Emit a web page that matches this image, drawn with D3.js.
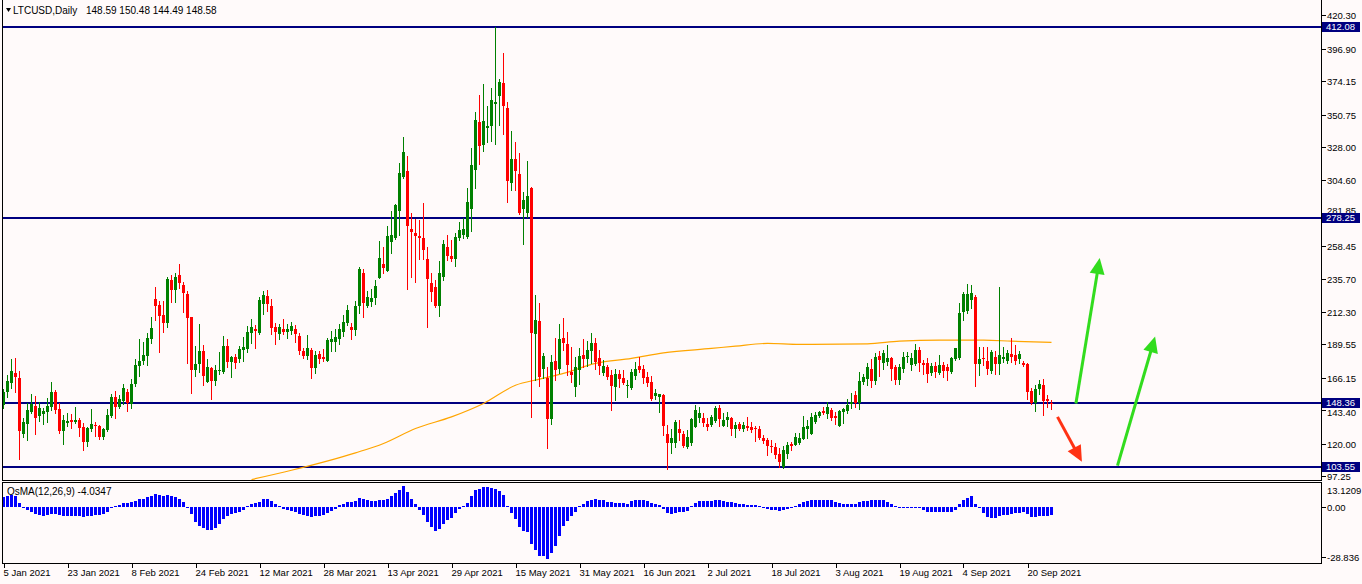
<!DOCTYPE html>
<html><head><meta charset="utf-8">
<script src="https://cdn.jsdelivr.net/npm/d3@7"></script>
<style>
html,body{margin:0;padding:0;background:#fffafa;}
svg{display:block;font-family:"Liberation Sans",Arial,sans-serif;}
</style></head><body>
<svg id="c" width="1362" height="584"></svg>
<script>
const openP=[147.0,156.4,162.7,169.5,166.2,126.7,133.9,142.3,146.3,139.3,
140.9,142.1,145.8,156.1,144.0,128.8,134.4,136.5,135.1,136.3,
131.8,121.1,130.2,133.2,132.3,124.8,129.7,139.3,152.6,145.8,
149.6,156.1,147.9,162.2,174.4,178.1,181.6,193.5,221.3,217.1,
210.1,204.7,234.7,227.7,238.4,231.2,224.9,208.7,171.6,175.6,
184.9,163.4,173.0,164.1,170.9,170.2,188.4,177.2,180.9,179.5,
185.6,186.1,197.3,200.5,197.7,217.8,223.7,216.7,201.5,196.8,
200.3,198.2,199.1,200.1,195.4,184.9,181.4,185.6,173.2,182.6,
180.9,178.1,191.4,191.4,193.3,198.2,204.3,201.9,199.6,216.4,
239.8,216.4,219.4,222.3,236.3,245.9,241.2,261.5,263.9,283.3,
307.1,311.1,270.4,267.4,265.5,263.9,249.4,232.6,230.0,216.4,
237.0,257.8,251.7,249.6,263.9,266.2,265.0,284.4,311.8,345.3,
329.3,341.5,342.6,358.1,363.7,373.0,355.5,302.5,319.5,309.2,
284.2,281.4,298.9,197.0,205.9,172.3,166.2,137.4,177.9,172.3,
193.8,190.0,170.4,159.8,171.6,182.1,179.3,185.1,190.7,179.8,
169.9,173.5,168.0,159.8,168.8,165.9,160.6,159.2,167.4,174.4,
172.3,166.9,163.2,153.3,152.8,154.0,126.7,120.2,120.2,130.2,
126.5,117.8,120.2,131.8,138.1,137.7,133.7,133.0,136.0,145.1,
132.3,136.5,138.1,130.0,133.7,130.0,132.3,131.8,130.7,130.2,
124.1,122.5,118.5,117.8,112.6,103.8,112.6,119.7,118.9,120.6,
123.2,130.0,126.7,135.3,139.3,142.8,140.7,143.5,139.5,132.3,
142.3,142.8,147.7,154.0,148.2,163.4,165.7,172.3,163.7,181.4,
176.7,177.2,179.8,173.9,164.6,172.7,180.5,175.1,175.8,185.6,
176.3,176.3,169.7,174.6,169.9,175.1,173.9,170.4,179.1,179.8,
212.4,213.1,220.6,222.9,175.8,180.0,178.1,171.1,180.5,175.8,
179.1,178.1,182.8,182.1,179.1,176.7,175.8,157.0,148.2,158.2,
161.0,151.2,148.59];
const highP=[158.2,168.0,179.3,180.2,170.9,138.1,148.2,154.7,153.3,148.9,
144.7,152.4,163.2,158.0,148.2,140.0,141.2,140.7,145.4,137.9,
134.6,131.8,144.2,134.9,133.0,130.7,144.0,154.9,156.8,154.5,
162.2,158.4,165.7,179.3,193.5,191.0,197.5,208.5,229.8,219.9,
219.9,236.6,238.2,239.8,245.9,233.5,227.0,209.0,188.4,203.8,
189.1,179.3,173.9,175.1,184.0,195.4,193.3,181.4,182.8,188.4,
194.9,202.4,207.3,203.1,222.5,227.2,227.7,221.3,204.3,203.8,
207.3,203.8,205.4,203.1,197.3,186.8,195.9,186.8,184.9,184.9,
186.3,194.2,199.1,200.1,203.8,210.1,217.1,204.3,219.9,244.0,
242.2,227.0,228.1,234.7,262.0,258.0,272.7,283.0,288.0,316.5,
335.1,321.8,281.9,277.4,276.8,288.9,257.6,239.4,234.7,248.0,
262.7,266.2,262.7,267.8,275.1,278.3,299.4,327.4,352.3,364.4,
372.1,356.9,369.1,412.1,375.6,394.1,359.7,339.2,331.6,323.9,
296.2,318.1,300.1,224.2,218.3,183.7,173.9,182.1,193.8,203.8,
207.8,198.0,187.9,180.9,186.8,193.1,192.1,197.3,193.8,185.6,
178.6,175.1,171.6,172.3,172.0,172.0,164.6,172.7,177.4,180.5,
175.1,170.4,167.4,158.7,155.2,154.7,133.0,130.0,136.5,136.5,
128.8,129.5,137.7,147.0,145.4,141.2,138.1,140.0,146.3,147.0,
141.2,142.3,138.8,135.3,135.3,135.3,138.8,135.3,132.3,132.3,
125.9,123.7,122.5,120.2,116.7,118.5,121.3,121.3,127.6,127.2,
139.3,136.9,141.2,142.3,143.0,145.8,149.3,144.7,142.3,143.5,
144.7,151.0,155.6,157.0,170.4,168.8,176.3,179.1,183.3,184.9,
185.6,189.1,180.5,175.1,175.8,184.4,184.4,183.7,189.8,187.9,
178.6,179.8,176.3,177.4,182.1,177.4,175.6,180.9,182.1,218.7,
226.5,231.7,231.2,224.2,187.9,187.5,187.9,185.6,185.1,229.9,
187.5,185.6,194.2,189.1,185.1,178.1,176.3,159.4,161.0,164.6,
165.7,154.0,150.48];
const lowP=[144.9,152.8,159.2,156.4,109.2,124.8,122.5,141.2,126.7,135.8,
133.5,135.3,143.5,141.2,127.2,119.7,132.5,131.1,134.2,125.3,
115.5,118.5,129.0,125.3,123.4,123.2,129.0,138.4,138.1,144.7,
147.7,143.0,145.1,160.6,167.6,175.8,175.3,190.3,206.4,184.4,
198.4,201.9,219.0,219.0,229.3,212.4,176.3,155.6,167.6,170.4,
161.0,163.0,151.4,161.5,169.2,169.7,173.9,166.9,173.2,177.4,
178.1,184.4,190.3,187.2,196.8,210.8,212.9,196.8,189.8,193.1,
196.8,194.2,196.6,191.0,182.8,179.8,179.1,166.2,169.9,176.3,
178.1,178.1,184.9,185.1,189.8,195.6,203.1,193.3,196.1,211.3,
208.9,215.5,216.4,217.6,235.9,239.4,241.0,253.8,263.4,266.2,
306.0,228.6,237.0,233.5,249.6,249.2,201.9,219.9,215.9,209.6,
234.7,248.7,248.2,244.7,262.7,263.9,264.3,269.2,299.4,316.0,
325.1,331.6,332.3,330.0,343.4,336.8,289.6,297.8,297.8,280.7,
259.7,279.1,138.8,164.6,160.3,166.2,116.7,133.7,165.0,169.7,
185.6,168.0,163.4,153.5,162.2,173.9,174.4,176.3,172.7,168.8,
168.0,165.3,143.5,150.5,159.8,161.7,152.8,158.2,165.7,170.4,
162.7,160.6,150.5,151.2,142.3,126.0,102.6,113.2,117.8,122.5,
117.4,116.7,119.0,131.8,135.3,132.3,129.5,132.3,135.3,132.3,
132.3,132.3,126.0,124.4,129.5,129.0,129.5,127.9,121.8,123.0,
120.2,111.9,114.3,110.0,103.7,103.0,110.3,115.5,118.9,119.7,
123.2,123.7,126.7,134.2,138.8,140.7,137.7,136.5,133.5,132.3,
134.2,141.6,145.1,145.8,144.0,162.2,161.5,159.8,161.7,167.4,
172.7,175.1,164.6,162.2,162.2,170.4,177.4,171.6,175.1,171.1,
169.2,163.4,168.0,166.9,169.2,166.9,165.0,169.7,178.6,179.1,
206.6,211.7,214.8,160.3,168.0,175.1,169.2,169.7,169.2,169.2,
177.4,176.7,177.4,175.8,176.3,174.4,151.7,147.7,143.0,154.7,
140.0,145.8,144.49];
const closeP=[156.4,163.9,170.9,166.9,128.8,135.1,143.5,147.5,138.1,144.9,
142.8,146.5,156.1,143.5,128.8,136.5,135.8,135.3,136.5,131.1,
121.3,130.9,133.7,132.5,124.8,130.0,140.0,152.6,145.8,151.2,
158.9,148.2,162.2,175.1,178.1,182.1,193.8,200.8,216.7,209.6,
204.7,235.4,227.7,236.6,232.4,225.3,208.2,171.6,175.8,184.9,
167.6,173.7,164.1,171.6,171.6,188.4,177.4,180.5,176.7,186.3,
187.7,198.2,201.5,198.9,220.4,224.2,217.6,201.0,198.2,201.5,
198.0,200.5,202.4,197.0,185.1,181.4,186.8,173.2,181.9,179.5,
179.3,192.6,193.3,194.5,200.3,205.2,213.6,199.6,216.7,242.6,
218.3,222.9,222.0,230.5,250.1,243.3,265.5,266.2,287.3,309.5,
324.4,272.7,268.3,265.5,264.3,255.7,235.6,226.5,216.4,239.4,
259.9,251.7,249.4,264.8,269.7,270.4,289.4,315.3,346.9,328.6,
346.2,342.6,360.9,359.7,373.7,356.7,304.1,319.5,311.1,281.9,
290.8,293.8,197.7,206.6,166.9,181.4,137.0,177.2,172.0,193.3,
190.3,175.1,168.0,173.9,181.4,179.3,185.6,190.3,177.0,174.6,
174.6,166.9,160.3,168.8,165.3,162.7,161.0,170.4,172.7,171.6,
166.2,162.7,151.7,155.6,154.7,132.3,120.2,124.1,135.3,127.2,
118.5,124.8,137.0,143.5,141.2,134.6,131.8,138.8,145.1,137.4,
136.5,138.8,130.0,133.0,130.2,133.0,131.1,129.5,130.0,124.1,
121.8,118.5,117.8,111.9,107.3,115.5,119.0,118.3,124.4,124.1,
131.8,132.5,138.8,140.0,142.3,141.2,145.8,138.1,138.1,142.8,
144.0,147.0,149.3,148.2,163.9,166.9,173.9,163.9,180.7,178.6,
183.7,179.8,172.3,164.6,173.9,180.5,181.4,179.8,185.6,176.3,
175.1,169.2,174.6,170.4,175.1,170.9,170.9,179.8,186.8,211.3,
224.6,224.9,225.3,175.8,179.1,179.1,172.3,184.4,175.8,182.1,
180.5,183.7,180.5,178.1,182.8,175.1,156.4,148.6,158.7,162.2,
150.0,150.0,148.58];
const osma=[5.5,6.0,6.2,6.0,2.5,-0.5,-1.5,-2.6,-3.5,-4.0,
-4.3,-3.8,-3.3,-3.3,-4.1,-4.5,-4.7,-4.7,-4.7,-4.7,
-5.0,-4.7,-4.3,-4.0,-3.8,-3.3,-2.4,-0.5,0.9,1.4,
2.2,2.2,2.8,3.5,4.1,4.5,5.4,6.0,6.9,6.6,
6.0,6.4,6.0,5.2,4.3,2.9,-0.5,-3.5,-7.8,-9.5,
-10.7,-11.6,-11.6,-10.7,-8.6,-6.0,-4.7,-3.6,-2.9,-2.2,
-1.2,0.9,1.7,2.2,2.9,4.3,4.3,3.1,1.9,0.9,
-0.9,-1.6,-1.9,-2.6,-3.5,-4.0,-4.3,-5.0,-4.7,-4.7,
-4.1,-2.9,-2.1,-0.9,1.0,1.9,2.9,2.9,3.5,4.8,
4.5,3.8,3.5,3.5,3.6,4.0,4.5,5.7,7.4,8.8,
10.9,7.9,4.5,1.7,-1.6,-4.1,-7.8,-10.2,-12.4,-11.2,
-8.5,-6.7,-5.5,-2.9,-0.9,0.9,2.2,5.7,9.2,9.7,
10.5,10.4,10.2,9.5,8.6,6.6,0.5,-2.9,-6.0,-10.2,
-12.4,-13.0,-18.8,-21.9,-25.0,-25.4,-26.8,-23.7,-20.2,-15.0,
-9.8,-7.3,-4.7,-2.2,0.5,1.7,3.1,4.0,4.3,4.0,
3.6,2.8,2.6,2.2,2.2,2.2,1.9,3.1,3.6,4.0,
4.0,3.1,2.2,1.9,1.2,-0.9,-2.9,-3.5,-2.9,-2.6,
-2.6,-2.1,0.9,2.2,3.1,3.1,3.1,3.5,4.0,4.0,
3.5,2.9,2.6,2.2,1.9,1.6,1.2,1.2,1.0,0.5,
-0.5,-0.7,-1.2,-1.6,-2.1,-1.6,-0.9,-0.5,0.9,1.7,
2.6,3.1,3.6,4.0,4.0,4.0,4.0,3.6,2.8,2.2,
1.9,1.7,1.6,1.9,2.8,3.1,3.5,3.6,3.8,3.8,
3.6,2.9,1.7,0.7,-0.4,-0.4,-0.4,-0.4,-0.4,-0.6,
-1.2,-2.2,-2.4,-2.4,-2.4,-2.4,-2.4,-2.2,-1.2,1.7,
3.6,4.8,5.7,1.9,-0.5,-2.9,-5.0,-5.5,-5.5,-4.7,
-4.1,-3.8,-3.3,-2.9,-2.9,-2.6,-3.3,-5.2,-5.2,-4.7,
-4.7,-4.7,-4.0347];
const maIdx=[62,72,88,95,103,112,120,128,134,140,148,157,165,177,183,191,199,216,224,234,245,252,262];
const maVal=[94.9,101.4,113.6,120.2,130.7,138.8,148.2,161.0,165.3,169.3,176.3,179.8,183.7,186.8,188.4,190.3,189.6,190.0,191.9,192.6,192.6,191.9,191.0];
const dateLabels=["5 Jan 2021","23 Jan 2021","8 Feb 2021","24 Feb 2021","12 Mar 2021","28 Mar 2021","13 Apr 2021","29 Apr 2021","15 May 2021","31 May 2021","16 Jun 2021","2 Jul 2021","18 Jul 2021","3 Aug 2021","19 Aug 2021","4 Sep 2021","20 Sep 2021"];
const dateIdx=[0,16,32,48,64,80,96,112,128,144,160,176,192,208,224,240,256];
const priceTicks=[420.30,396.90,374.15,350.75,328.00,304.60,281.85,258.45,235.70,212.30,189.55,166.15,143.40,120.00,97.25];
const levels=[412.08,278.25,148.36,103.55];
const osmaTicks=[13.1209,0,-28.836];
const arrowFrom=[[263.5,138.8],[268.1,148.2],[278.5,104.6]];
const arrowTo=[[269.6,107.3],[274.05,250.1],[287.9,195.1]];
const arrowColor=["#ff3214","#32dc1e","#32dc1e"];

const svg=d3.select("#c");
const L=2.5,R=1321.5,MT=0,MB=480.5,ST=482.5,SB=563.5;
const x=d3.scaleLinear().domain([0,262]).range([3.5,1051.5]);
const y=d3.scaleLinear().domain([103.55,412.08]).range([467.2,27]);
const yo=d3.scaleLinear().domain([-28.836,13.1209]).range([563,482]);
const n=openP.length;

svg.append("rect").attr("width",1362).attr("height",584).attr("fill","#fffafa");
const defs=svg.append("defs");
defs.append("clipPath").attr("id","mc").append("rect").attr("x",3).attr("y",0).attr("width",1318).attr("height",480);
defs.append("clipPath").attr("id","sc").append("rect").attr("x",3).attr("y",483).attr("width",1318).attr("height",80);

// frames
const fr=svg.append("g").attr("stroke","#000").attr("fill","none").attr("shape-rendering","crispEdges");
fr.append("line").attr("x1",L).attr("x2",L).attr("y1",MT).attr("y2",MB);
fr.append("line").attr("x1",L).attr("x2",R).attr("y1",MB).attr("y2",MB);
fr.append("line").attr("x1",R).attr("x2",R).attr("y1",MT).attr("y2",MB);
fr.append("rect").attr("x",L).attr("y",ST).attr("width",R-L).attr("height",SB-ST);

const main=svg.append("g").attr("clip-path","url(#mc)");
main.selectAll("rect.lvl").data(levels).join("rect").attr("class","lvl")
 .attr("x",3).attr("width",R-3).attr("y",d=>Math.round(y(d))-1).attr("height",2).attr("fill","#000080");
const maPts=maIdx.map((d,i)=>[d,maVal[i]]);
main.append("path").attr("d",d3.line().x(d=>x(d[0])).y(d=>y(d[1])).curve(d3.curveMonotoneX)(maPts))
 .attr("fill","none").attr("stroke","#ffa500").attr("stroke-width",1.2);
const cg=main.append("g").attr("shape-rendering","crispEdges");
d3.range(n).forEach(i=>{
  const up=closeP[i]>=openP[i];
  const col=up?"#008000":"#ff0000";
  const cx=x(i);
  cg.append("line").attr("x1",cx).attr("x2",cx).attr("y1",Math.round(y(highP[i]))).attr("y2",Math.round(y(lowP[i]))+1).attr("stroke",col);
  const t=Math.round(y(Math.max(openP[i],closeP[i]))), b=Math.round(y(Math.min(openP[i],closeP[i])));
  cg.append("rect").attr("x",cx-1.5).attr("width",3).attr("y",t).attr("height",Math.max(1,b-t)).attr("fill",col);
});
arrowFrom.forEach((f,k)=>{
  const x0=x(f[0]),y0=y(f[1]),x1=x(arrowTo[k][0]),y1=y(arrowTo[k][1]);
  const dx=x1-x0,dy=y1-y0,len=Math.hypot(dx,dy),ux=dx/len,uy=dy/len;
  const hl=16,hw=7.5;
  const bx=x1-ux*hl,by=y1-uy*hl;
  svg.append("line").attr("x1",x0).attr("y1",y0).attr("x2",bx+ux*2).attr("y2",by+uy*2)
    .attr("stroke",arrowColor[k]).attr("stroke-width",3);
  svg.append("path").attr("d",`M${x1},${y1}L${bx-uy*hw},${by+ux*hw}L${bx+uy*hw},${by-ux*hw}Z`).attr("fill",arrowColor[k]);
});

// price axis (labels partly hidden by level boxes, as in the reference)
const ax=svg.append("g").attr("font-size","9.5px").attr("fill","#000");
const nudge={"281.85":-3,"143.40":2};
priceTicks.forEach(v=>{
  const yy=Math.round(y(v))+0.5;
  ax.append("line").attr("x1",R).attr("x2",R+4).attr("y1",yy).attr("y2",yy).attr("stroke","#000").attr("shape-rendering","crispEdges");
  ax.append("text").attr("x",1327).attr("y",yy+(nudge[v.toFixed(2)]||0)).attr("dy","0.35em").text(v.toFixed(2));
});
levels.forEach(v=>{
  const yy=Math.round(y(v));
  ax.append("rect").attr("x",1322).attr("y",yy-5).attr("width",38).attr("height",10).attr("fill","#000080");
  ax.append("text").attr("x",1326).attr("y",yy).attr("dy","0.35em").attr("fill","#fff").text(v.toFixed(2));
});

// OsMA
const sg=svg.append("g").attr("clip-path","url(#sc)").attr("shape-rendering","crispEdges");
const z=Math.round(yo(0));
osma.forEach((v,i)=>{
  const yy=Math.round(yo(v));
  sg.append("rect").attr("x",x(i)-1.5).attr("width",3).attr("y",Math.min(yy,z)).attr("height",Math.max(1,Math.abs(yy-z))).attr("fill","#0000ff");
});
const oLab=["13.1209","0.00","-28.836"];
const oOff=[8,0,-6];
osmaTicks.forEach((v,k)=>{
  const yy=Math.round(yo(v))+oOff[k]+0.5;
  if(k>0) ax.append("line").attr("x1",R).attr("x2",R+4).attr("y1",yy).attr("y2",yy).attr("stroke","#000").attr("shape-rendering","crispEdges");
  ax.append("text").attr("x",1327).attr("y",yy).attr("dy","0.35em").text(oLab[k]);
});
svg.append("text").attr("x",7).attr("y",491).attr("dy","0.35em").attr("font-size","10px")
 .text("OsMA(12,26,9) "+osma[n-1].toFixed(4));

// date axis
dateIdx.forEach((d,k)=>{
  const xx=Math.round(x(d))+0.5;
  ax.append("line").attr("x1",xx).attr("x2",xx).attr("y1",SB).attr("y2",SB+4).attr("stroke","#000").attr("shape-rendering","crispEdges");
  ax.append("text").attr("x",xx-1).attr("y",576).text(dateLabels[k]);
});

// header
svg.append("path").attr("d","M6,8L11,8L8.5,12Z").attr("fill","#000");
svg.append("text").attr("x",13).attr("y",10.5).attr("dy","0.35em").attr("font-size","10px").text("LTCUSD,Daily");
svg.append("text").attr("x",86).attr("y",10.5).attr("dy","0.35em").attr("font-size","10px")
 .text([openP[n-1],highP[n-1],lowP[n-1],closeP[n-1]].map(v=>v.toFixed(2)).join(" "));
</script>
</body></html>
